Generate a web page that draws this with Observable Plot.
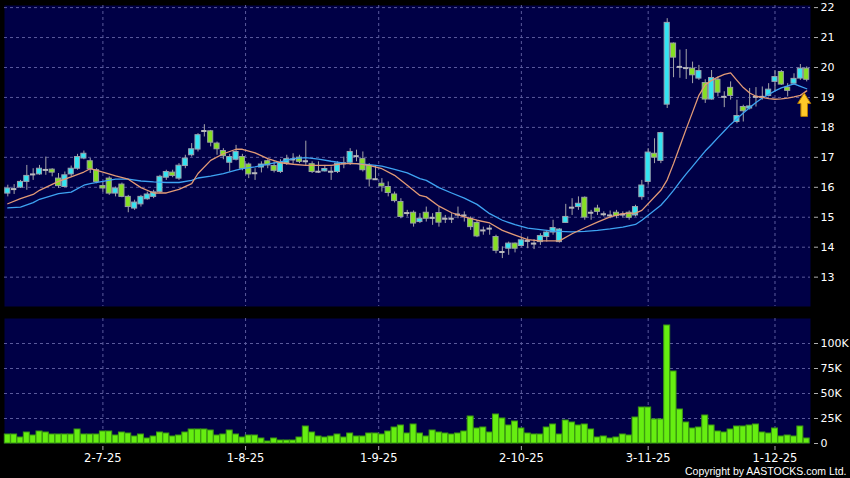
<!DOCTYPE html>
<html><head><meta charset="utf-8">
<script src="https://cdn.jsdelivr.net/npm/d3@7"></script>
<script src="https://cdn.jsdelivr.net/npm/@observablehq/plot@0.6"></script>
<style>
html,body{margin:0;padding:0;background:#000;}
#chart{width:850px;height:478px;overflow:hidden;background:#000;}
#chart svg{display:block;}
</style></head><body><div id="chart"></div>
<script>
// ---- data ----
const openP = [15.79,15.94,15.99,16.18,16.43,16.43,16.58,16.59,16.29,16.01,
16.43,16.62,16.96,16.87,16.57,16.04,16.29,15.79,16.09,15.68,
15.29,15.43,15.60,15.68,15.84,16.32,16.49,16.29,16.71,17.07,
17.26,17.88,17.87,17.46,17.21,16.82,16.92,17.01,16.76,16.47,
16.66,16.87,16.71,16.51,16.81,16.93,16.99,16.87,16.77,16.52,
16.53,16.52,16.51,16.80,16.82,17.04,16.94,16.71,16.27,16.12,
16.01,15.76,15.51,15.14,15.15,14.84,15.15,14.98,15.14,14.95,
14.95,15.09,15.06,14.95,14.81,14.56,14.62,14.34,13.84,13.95,
14.12,14.04,14.21,14.12,14.17,14.34,14.49,14.17,14.81,15.32,
15.34,15.65,15.15,15.29,15.10,15.06,15.15,15.09,15.15,15.06,
15.67,16.18,17.12,16.88,18.76,20.80,20.02,19.98,19.96,19.63,
19.48,18.93,19.59,19.02,19.32,18.18,18.68,18.63,19.02,19.02,
19.05,19.52,19.85,19.33,19.46,19.63,19.96];
const closeP = [15.96,15.94,16.18,16.38,16.43,16.62,16.58,16.49,16.04,16.40,
16.62,17.01,17.12,16.60,16.18,15.96,15.79,15.96,15.68,15.34,
15.49,15.68,15.76,15.83,16.35,16.51,16.38,16.72,16.96,17.27,
17.74,17.88,17.49,17.27,17.04,17.01,17.18,16.62,16.43,16.47,
16.76,16.73,16.55,16.81,16.94,16.93,16.85,16.87,16.51,16.52,
16.61,16.52,16.79,16.80,17.18,17.04,16.57,16.26,16.27,16.03,
15.81,15.54,15.01,15.14,14.79,14.95,14.95,14.98,14.82,14.95,
14.95,15.09,15.06,14.67,14.36,14.56,14.62,13.88,13.84,14.12,
13.95,14.23,14.21,14.12,14.37,14.49,14.64,14.59,15.01,15.32,
15.45,14.99,15.15,15.18,15.10,15.06,15.04,15.09,14.98,15.34,
16.06,17.16,16.99,17.81,21.49,20.33,20.02,19.98,19.74,19.88,
18.93,19.65,19.16,19.02,19.05,18.38,18.54,18.70,19.02,19.02,
19.26,19.68,19.43,19.22,19.62,19.96,19.59];
const highP = [16.07,16.09,16.23,16.73,16.62,16.73,17.01,16.62,16.46,16.51,
16.71,17.10,17.21,16.96,16.62,16.18,16.35,16.01,16.14,15.73,
15.57,15.73,15.84,15.90,16.40,16.57,16.57,16.79,17.07,17.46,
17.79,18.09,17.90,17.51,17.29,17.10,17.40,17.10,16.81,16.62,
16.85,16.92,16.85,16.92,17.07,17.12,17.07,17.54,16.85,16.85,
16.73,16.68,16.85,17.01,17.29,17.24,17.18,16.79,16.73,16.29,
16.18,15.84,15.62,15.23,15.21,15.12,15.34,15.12,15.34,15.06,
15.12,15.34,15.18,15.01,14.90,14.67,14.73,14.40,14.01,14.17,
14.14,14.34,14.34,14.25,14.45,14.56,14.90,14.62,15.43,15.62,
15.68,15.68,15.23,15.40,15.18,15.21,15.23,15.18,15.21,15.40,
16.23,17.29,17.62,17.84,21.63,20.82,20.58,20.60,20.18,20.07,
19.59,19.90,19.68,19.19,19.52,18.91,18.74,19.30,19.33,19.35,
19.46,19.90,19.90,19.46,19.79,20.10,20.02];
const lowP = [15.68,15.76,15.96,15.90,16.23,16.40,16.40,16.35,15.96,15.99,
16.35,16.57,16.92,16.46,16.12,15.84,15.73,15.68,15.65,15.15,
15.23,15.34,15.57,15.62,15.79,16.23,16.32,16.23,16.62,17.01,
17.18,17.68,17.35,17.07,16.92,16.51,16.88,16.55,16.29,16.23,
16.48,16.62,16.48,16.46,16.73,16.77,16.79,16.73,16.46,16.46,
16.51,16.23,16.46,16.62,16.73,16.85,16.51,16.01,16.23,15.84,
15.68,15.48,14.95,15.01,14.67,14.79,14.84,14.73,14.67,14.79,
14.79,14.95,14.84,14.56,14.32,14.40,14.40,13.78,13.62,13.73,
13.81,14.01,13.95,13.92,14.06,14.17,14.40,14.14,14.79,15.06,
15.23,14.90,14.90,15.06,15.01,14.95,14.95,14.98,14.90,15.01,
15.57,16.07,16.79,16.79,18.63,19.66,19.64,19.60,19.46,19.57,
18.80,18.91,19.02,18.66,18.91,18.12,18.18,18.58,18.68,18.91,
19.02,19.19,19.40,19.02,19.40,19.57,19.52];
// volume in thousands
const volumeK = [9,9,6,11,8,12,11,9,9,9,
9,14,9,9,9,12,12,8,11,10,
7,9,5,7,11,10,7,8,11,14,
14,14,13,8,9,13,9,6,8,8,
5,2,5,3,3,3,6,17,11,7,
6,7,9,6,10,7,7,10,10,9,
12,16,18,10,19,10,7,13,11,10,
9,10,12,27,15,16,11,29,25,18,
22,15,10,9,9,16,19,9,23,21,
18,19,14,6,7,5,6,9,8,26,
36,36,24,24,118,72,34,21,15,16,
28,18,12,11,14,17,17,18,19,11,
10,15,7,8,7,17,5];
// moving averages: [bar index, value]
const maFast = [[0,15.45],[2,15.62],[4,15.76],[5,15.90],[8,16.20],[10,16.35],[12,16.51],[13,16.62],[15,16.51],[17,16.38],[19,16.27],[21,15.99],[23,15.81],[25,15.81],[27,15.93],[29,16.12],[30,16.46],[32,16.90],[34,17.12],[36,17.27],[37,17.27],[39,17.15],[41,16.96],[43,16.82],[45,16.77],[47,16.73],[49,16.73],[51,16.73],[53,16.79],[55,16.79],[57,16.73],[59,16.62],[61,16.40],[63,16.07],[65,15.73],[66,15.68],[68,15.37],[70,15.15],[72,15.01],[74,14.90],[76,14.81],[78,14.56],[80,14.40],[82,14.25],[84,14.21],[87,14.21],[89,14.45],[91,14.65],[93,14.84],[95,15.01],[97,15.12],[99,15.14],[100,15.23],[103,15.90],[104,16.25],[105,16.79],[106,17.37],[107,17.95],[108,18.51],[109,19.07],[110,19.42],[111,19.57],[112,19.68],[113,19.77],[114,19.82],[115,19.57],[116,19.33],[117,19.15],[118,19.04],[119,19.00],[120,18.96],[121,18.94],[122,18.95],[123,18.98],[124,19.02],[125,19.07],[126,19.22]];
const maSlow = [[0,15.31],[2,15.34],[4,15.49],[5,15.60],[8,15.79],[10,15.84],[12,16.07],[13,16.12],[15,16.20],[17,16.27],[19,16.27],[21,16.21],[23,16.18],[25,16.16],[27,16.16],[29,16.23],[30,16.31],[32,16.37],[34,16.46],[36,16.57],[37,16.62],[39,16.68],[41,16.77],[43,16.85],[45,16.96],[47,16.99],[49,16.94],[51,16.87],[53,16.81],[55,16.79],[57,16.76],[59,16.71],[61,16.60],[63,16.48],[65,16.29],[66,16.23],[68,15.99],[70,15.81],[72,15.64],[74,15.43],[76,15.12],[78,14.90],[80,14.75],[82,14.64],[84,14.59],[86,14.54],[89,14.51],[91,14.53],[93,14.56],[95,14.61],[97,14.67],[99,14.76],[100,14.90],[103,15.40],[104,15.64],[105,15.90],[106,16.18],[107,16.45],[108,16.70],[109,16.96],[110,17.21],[111,17.43],[112,17.66],[113,17.88],[114,18.10],[115,18.29],[116,18.48],[117,18.66],[118,18.83],[119,18.98],[120,19.10],[121,19.22],[122,19.32],[123,19.39],[124,19.45],[125,19.37],[126,19.29]];
const dateTickIdx = [15, 37.5, 58.5, 81, 101, 121];
const dateTickLabels = ["2-7-25", "1-8-25", "1-9-25", "2-10-25", "3-11-25", "1-12-25"];
const priceTicks = [13,14,15,16,17,18,19,20,21,22];
const volumeTicks = [0,25,50,75,100];
const signalMarker = [{i: 126, p: 18.75}];

// ---- styling ----
const NAVY = "#000046", GRID = "#5a5a9c", CYAN = "#33e4f2", GREEN = "#86e022",
      ORANGE = "#e29a76", BLUE = "#3ea3f2", VOL = "#66ee11", TXT = "#ffffff";
const FONT = "DejaVu Sans, Verdana, sans-serif";
const xDomain = [-0.52, 126.6];

const candles = d3.range(closeP.length).map(i => ({i, o: openP[i], h: highP[i], l: lowP[i], c: closeP[i], v: volumeK[i]}));
const ups = candles.filter(d => d.c > d.o);
const downs = candles.filter(d => d.c < d.o);
const dojis = candles.filter(d => d.c === d.o);
const fast = maFast.map(([i, v]) => ({i, v}));
const slow = maSlow.map(([i, v]) => ({i, v}));

const upArrow = {draw(ctx) {
  ctx.moveTo(0, -12); ctx.lineTo(6.5, -1.5); ctx.lineTo(3.3, -1.5); ctx.lineTo(3.3, 11.5);
  ctx.lineTo(-3.3, 11.5); ctx.lineTo(-3.3, -1.5); ctx.lineTo(-6.5, -1.5); ctx.closePath();
}};

const gridOpts = {stroke: GRID, strokeOpacity: 1, strokeDasharray: "3,3", strokeWidth: 1};
const baseStyle = {background: "#000", color: TXT, fontFamily: FONT, fontSize: "11px", overflow: "visible"};

const price = Plot.plot({
  width: 850, height: 312,
  marginLeft: 4, marginRight: 40, marginTop: 5, marginBottom: 6,
  style: baseStyle,
  x: {domain: xDomain, axis: null},
  y: {domain: [12.02, 22.07], axis: null},
  marks: [
    Plot.frame({fill: NAVY, stroke: null}),
    Plot.gridY(priceTicks, gridOpts),
    Plot.gridX(dateTickIdx, gridOpts),
    Plot.ruleX(candles, {x: "i", y1: d => Math.min(d.l, d.o, d.c), y2: d => Math.max(d.h, d.o, d.c), stroke: "#a4a4a8", strokeWidth: 1}),
    Plot.rect(ups, {x1: d => d.i - 0.4, x2: d => d.i + 0.4, y1: "o", y2: "c", fill: CYAN, stroke: "#9aa4b0", strokeWidth: 1}),
    Plot.rect(downs, {x1: d => d.i - 0.4, x2: d => d.i + 0.4, y1: "o", y2: "c", fill: GREEN, stroke: "#9aa4a0", strokeWidth: 1}),
    Plot.ruleY(dojis, {y: "c", x1: d => d.i - 0.42, x2: d => d.i + 0.42, stroke: "#b8b8bc", strokeWidth: 2}),
    Plot.line(slow, {x: "i", y: "v", stroke: BLUE, strokeWidth: 1.3}),
    Plot.line(fast, {x: "i", y: "v", stroke: ORANGE, strokeWidth: 1.3}),
    Plot.dot(signalMarker, {x: "i", y: "p", symbol: upArrow, r: 6, fill: "#ffc929", stroke: "#b57a00", strokeWidth: 1, dx: -2.5}),
    Plot.axisY(priceTicks, {anchor: "right", label: null, tickSize: 4, tickPadding: 3, dx: 3, stroke: "#b0b0b0", fill: TXT, fontSize: 11})
  ]
});

const volume = Plot.plot({
  width: 850, height: 166,
  marginLeft: 4, marginRight: 40, marginTop: 6, marginBottom: 35,
  style: baseStyle,
  x: {domain: xDomain, axis: null},
  y: {domain: [0, 125], axis: null},
  marks: [
    Plot.frame({fill: NAVY, stroke: null}),
    Plot.gridY([25, 50, 75, 100], gridOpts),
    Plot.gridX(dateTickIdx, gridOpts),
    Plot.rect(candles, {x1: d => d.i - 0.47, x2: d => d.i + 0.47, y1: 0, y2: "v", fill: VOL, stroke: "#3b9a10", strokeWidth: 1}),
    Plot.axisY(volumeTicks, {anchor: "right", label: null, tickSize: 4, tickPadding: 3, dx: 3, stroke: "#b0b0b0", fill: TXT, fontSize: 11,
      tickFormat: d => d === 0 ? "0" : d + "K"}),
    Plot.axisX(dateTickIdx, {anchor: "bottom", label: null, tickSize: 4, tickPadding: 3, dy: 3, stroke: "#b0b0b0", fill: TXT, fontSize: 11.5,
      tickFormat: d => dateTickLabels[dateTickIdx.indexOf(d)]}),
    Plot.text(["Copyright by AASTOCKS.com Ltd."], {frameAnchor: "bottom-right", textAnchor: "end", lineAnchor: "middle",
      dx: 36, dy: 28, fill: TXT, fontSize: 10.5, fontFamily: "Liberation Sans, Arial, sans-serif"})
  ]
});

const root = document.getElementById("chart");
root.appendChild(price);
root.appendChild(volume);
</script>
</body></html>
